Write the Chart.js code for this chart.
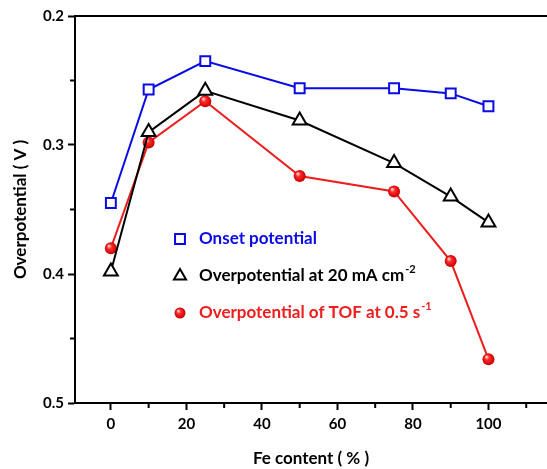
<!DOCTYPE html>
<html>
<head>
<meta charset="utf-8">
<script src="https://cdn.jsdelivr.net/npm/chart.js@4.4.1/dist/chart.umd.min.js"></script>
<style>
  html, body { margin: 0; padding: 0; background: #fff; }
  #wrap { width: 547px; height: 469px; }
</style>
</head>
<body>
<div id="wrap"><canvas id="c" width="547" height="469"></canvas></div>
<script>
// Fe content (%) and the three overpotential series (V)
const feContent = [0, 10, 25, 50, 75, 90, 100];
const onsetPotential = [0.345, 0.257, 0.235, 0.256, 0.256, 0.260, 0.270];
const overpotential20 = [0.398, 0.290, 0.258, 0.281, 0.314, 0.340, 0.360];
const overpotentialTOF = [0.380, 0.298, 0.266, 0.324, 0.336, 0.390, 0.466];

const xMajorTicks = [0, 20, 40, 60, 80, 100];
const xMinorTicks = [10, 30, 50, 70, 90, 110];
const yMajorTicks = [0.2, 0.3, 0.4, 0.5];
const yMinorTicks = [0.25, 0.35, 0.45];

const legendLabels = [
    { text: 'Onset potential', sup: '' },
    { text: 'Overpotential at 20 mA cm', sup: '-2' },
    { text: 'Overpotential of TOF at 0.5 s', sup: '-1' }
];

const FONT = 'Lato, "DejaVu Sans", sans-serif';
const BLUE = '#0a0ae6';
const RED = '#ee1c1c';

const toXY = (ys) => feContent.map((x, i) => ({ x: x, y: ys[i] }));

// shaded red ball, like the original markers
function ballAt(ctx, x, y, r) {
    const g = ctx.createRadialGradient(x - r * 0.35, y - r * 0.4, 0.5, x, y, r);
    g.addColorStop(0, '#ffd0d0');
    g.addColorStop(0.35, '#ff2a2a');
    g.addColorStop(1, '#c80000');
    return g;
}

function redFill(context) {
    const chart = context.chart;
    if (!context.parsed || !chart.scales.x) return RED;
    const px = chart.scales.x.getPixelForValue(context.parsed.x);
    const py = chart.scales.y.getPixelForValue(context.parsed.y);
    if (!isFinite(px) || !isFinite(py)) return RED;
    return ballAt(chart.ctx, px, py, 6);
}

// axis frame, minor ticks and the legend
const framePlugin = {
    id: 'frame',
    afterDraw(chart) {
        const ctx = chart.ctx;
        const area = chart.chartArea;
        const xs = chart.scales.x;
        const ys = chart.scales.y;
        ctx.save();
        ctx.strokeStyle = '#000';
        ctx.lineWidth = 2;
        ctx.beginPath();
        ctx.moveTo(area.left - 1, area.top);
        ctx.lineTo(area.right, area.top);
        ctx.stroke();

        // minor ticks
        ctx.beginPath();
        xMinorTicks.forEach(v => {
            const px = xs.getPixelForValue(v);
            if (px > area.right) return;
            ctx.moveTo(px, area.bottom);
            ctx.lineTo(px, area.bottom + 5);
        });
        yMinorTicks.forEach(v => {
            const py = ys.getPixelForValue(v);
            ctx.moveTo(area.left, py);
            ctx.lineTo(area.left - 5, py);
        });
        ctx.stroke();

        // legend
        const lx = 180, tx = 199;
        const rows = [239, 276, 313];
        ctx.textBaseline = 'middle';
        ctx.textAlign = 'left';
        chart.data.datasets.forEach((ds, i) => {
            const y = rows[i];
            ctx.lineWidth = 2;
            ctx.strokeStyle = ds.pointBorderColor;
            if (ds.pointStyle === 'circle') {
                ctx.fillStyle = ballAt(ctx, lx, y, ds.legendRadius);
                ctx.beginPath();
                ctx.arc(lx, y, ds.legendRadius, 0, Math.PI * 2);
                ctx.fill();
            } else {
                ctx.fillStyle = '#fff';
                Chart.helpers.drawPoint(ctx, {
                    pointStyle: ds.pointStyle,
                    radius: ds.legendRadius,
                    borderWidth: 2
                }, lx, y);
            }

            ctx.fillStyle = ds.textColor;
            ctx.font = 'bold 17px ' + FONT;
            ctx.fillText(legendLabels[i].text, tx, y);
            if (legendLabels[i].sup) {
                const w = ctx.measureText(legendLabels[i].text).width;
                ctx.font = 'bold 11px ' + FONT;
                ctx.fillText(legendLabels[i].sup, tx + w + 1, y - 7);
            }
        });
        ctx.restore();
    }
};

new Chart(document.getElementById('c'), {
    type: 'line',
    data: {
        datasets: [
            {
                label: 'Onset potential',
                data: toXY(onsetPotential),
                borderColor: BLUE,
                borderWidth: 2,
                pointStyle: 'rect',
                pointRadius: 7,
                legendRadius: 7,
                pointBorderWidth: 2,
                pointBorderColor: BLUE,
                pointBackgroundColor: '#fff',
                textColor: BLUE
            },
            {
                label: 'Overpotential at 20 mA cm-2',
                data: toXY(overpotential20),
                borderColor: '#000',
                borderWidth: 2,
                pointStyle: 'triangle',
                pointRadius: 8,
                legendRadius: 7,
                pointBorderWidth: 2,
                pointBorderColor: '#000',
                pointBackgroundColor: '#fff',
                textColor: '#000'
            },
            {
                label: 'Overpotential of TOF at 0.5 s-1',
                data: toXY(overpotentialTOF),
                borderColor: RED,
                borderWidth: 2,
                pointStyle: 'circle',
                pointRadius: 6,
                legendRadius: 5.5,
                pointBorderWidth: 0,
                pointBorderColor: RED,
                pointBackgroundColor: redFill,
                textColor: RED
            }
        ]
    },
    options: {
        responsive: false,
        animation: false,
        events: [],
        layout: { autoPadding: false, padding: { top: 16, right: 0, left: 0, bottom: 0 } },
        plugins: {
            legend: { display: false },
            tooltip: { enabled: false }
        },
        scales: {
            x: {
                type: 'linear',
                min: -9.5,
                max: 115.5,
                afterBuildTicks: (scale) => { scale.ticks = xMajorTicks.map(v => ({ value: v })); },
                afterFit: (scale) => { scale.height = 66; },
                border: { display: true, color: '#000', width: 2 },
                grid: { drawOnChartArea: false, drawTicks: true, tickLength: 7, tickWidth: 2, tickColor: '#000', color: '#000' },
                ticks: {
                    color: '#000',
                    padding: 5,
                    maxRotation: 0,
                    font: { family: FONT, size: 15, weight: 'bold' },
                    callback: (v) => String(v)
                },
                title: {
                    display: true,
                    text: 'Fe content ( % )',
                    color: '#000',
                    font: { family: FONT, size: 17, weight: 'bold' },
                    padding: { top: 0, bottom: 0 }
                }
            },
            y: {
                type: 'linear',
                reverse: true,
                min: 0.2,
                max: 0.5,
                afterBuildTicks: (scale) => { scale.ticks = yMajorTicks.map(v => ({ value: v })); },
                afterFit: (scale) => { scale.width = 75; },
                border: { display: true, color: '#000', width: 2 },
                grid: { drawOnChartArea: false, drawTicks: true, tickLength: 7, tickWidth: 2, tickColor: '#000', color: '#000' },
                ticks: {
                    color: '#000',
                    padding: 4,
                    font: { family: FONT, size: 15, weight: 'bold' },
                    callback: (v) => v.toFixed(1)
                },
                title: {
                    display: true,
                    text: 'Overpotential ( V )',
                    color: '#000',
                    font: { family: FONT, size: 17, weight: 'bold' },
                    padding: { top: 10, bottom: 0 }
                }
            }
        }
    },
    plugins: [framePlugin]
});
</script>
</body>
</html>
